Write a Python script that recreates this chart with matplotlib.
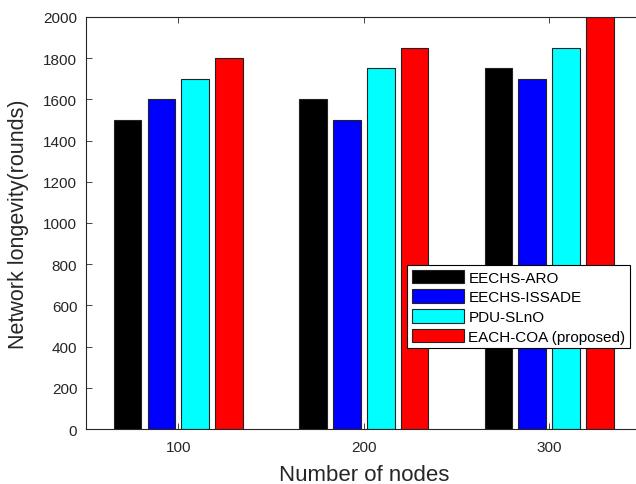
import matplotlib
matplotlib.use("Agg")
import matplotlib.pyplot as plt
import numpy as np

# node counts on the x axis
nodes = [100, 200, 300]

# network longevity (rounds) per method
eechs_aro = [1500, 1600, 1750]
eechs_issade = [1600, 1500, 1700]
pdu_slno = [1700, 1750, 1850]
each_coa = [1800, 1850, 2000]

labels = ["EECHS-ARO", "EECHS-ISSADE", "PDU-SLnO", "EACH-COA (proposed)"]
colors = ["#000000", "#0000ff", "#00ffff", "#ff0000"]
series = [eechs_aro, eechs_issade, pdu_slno, each_coa]

plt.rcParams['font.family'] = ['Liberation Sans', 'DejaVu Sans']

fig = plt.figure(figsize=(6.36, 4.85), dpi=100)
ax = fig.add_axes([0.1346, 0.1134, 0.8748, 0.8496])

x = np.array(nodes, dtype=float)
step = 18.25
offsets = (np.arange(4) - 1.5) * step
for vals, off, c, lab in zip(series, offsets, colors, labels):
    ax.bar(x + off, vals, width=15.0, color=c, edgecolor="#222222",
           linewidth=0.8, label=lab)

ax.set_xlim(50, 350)
ax.set_ylim(0, 2000)
ax.set_xticks(nodes)
ax.set_yticks(np.arange(0, 2001, 200))
ax.tick_params(direction="in", top=True, length=4, width=0.6,
               labelsize=11, colors="#262626", pad=8)
ax.tick_params(axis="y", pad=6)
for s in ax.spines.values():
    s.set_linewidth(0.8)
    s.set_color("#262626")

ax.set_xlabel("Number of nodes", fontsize=16, color="#262626", labelpad=7)
ax.set_ylabel("Network longevity(rounds)", fontsize=15.5, color="#262626", labelpad=10)

leg = ax.legend(loc="upper left", bbox_to_anchor=(0.578, 0.398), fontsize=11,
                frameon=True, fancybox=False, edgecolor="#000000",
                framealpha=1, handlelength=3.4, handleheight=1.0,
                handletextpad=0.3, labelspacing=0.3, borderpad=0.3,
                borderaxespad=0)
leg.get_frame().set_linewidth(0.8)

fig.savefig("out.png", dpi=100)
